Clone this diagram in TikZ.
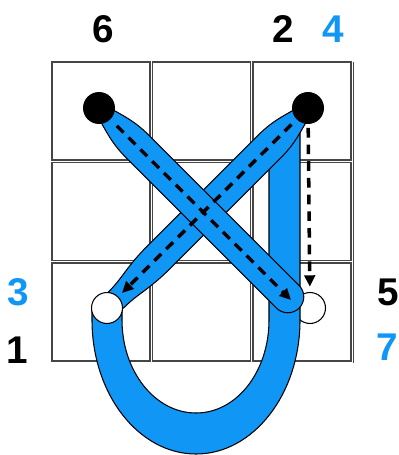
\documentclass[tikz,border=0pt]{standalone}
\usepackage{fontspec}
\setmainfont{Liberation Sans}
\usetikzlibrary{arrows.meta,calc}
\definecolor{accent}{RGB}{16,150,245}
\definecolor{gridline}{RGB}{70,70,70}

\begin{document}
\begin{tikzpicture}[x=0.02cm, y=-0.02cm,
    cell/.style={draw=gridline, line width=0.8pt},
    band/.style={fill=accent, draw=black, line width=0.6pt},
    bdot/.style={circle, fill=black, minimum size=0.64cm, inner sep=0pt},
    wdot/.style={circle, draw=black, fill=white, line width=0.6pt, minimum size=0.62cm, inner sep=0pt},
    num/.style={font=\bfseries\fontsize{22}{24}\selectfont, inner sep=0pt},
    dashline/.style={line width=2pt, dash pattern=on 5.5pt off 4pt, -{Triangle[length=6.5pt,width=6pt]}}]
    \useasboundingbox (0,0) rectangle (398,455);
    % grid
    \foreach \x in {52,152.5,253}
        \foreach \y in {62,162.5,263}
            \draw[cell] (\x,\y) rectangle ++(98,98);
    \draw[cell] (353.3,62) -- (353.3,362.5);
    \node[wdot] (p5) at (310,308) {};
    % loop band
    \draw[band] (269,150) -- (300,119) -- (300,320)
        .. controls (300,394) and (253.4,454) .. (196,454)
        .. controls (138.6,454) and (92,394) .. (92,320)
        -- (92,310) -- (122,310) -- (122,320)
        .. controls (122,371.4) and (155.1,413) .. (196,413)
        .. controls (236.9,413) and (269,371.4) .. (269,320) -- cycle;
    % crossing bands
    \foreach \px/\py/\ang/\len/\we in {308/108/-135/271/11, 99/108/-45/267/16} {
        \begin{scope}[shift={(\px,\py)}, rotate=\ang]
            \draw[band] (0,-6) .. controls (20,-10) and (30,-16) .. (55,-16) -- ({\len-60},-16)
                .. controls ({\len-30},-16) and ({\len-20},-\we) .. (\len,-\we)
                .. controls ({\len+0.55*\we},-\we) and ({\len+\we},{-0.55*\we}) .. ({\len+\we},0)
                .. controls ({\len+\we},{0.55*\we}) and ({\len+0.55*\we},\we) .. (\len,\we)
                .. controls ({\len-20},\we) and ({\len-30},16) .. ({\len-60},16) -- (55,16)
                .. controls (30,16) and (20,10) .. (0,6) -- cycle;
        \end{scope}
    }
    \node[wdot] (p3) at (107,308) {};
    \node[bdot] (p6) at (99,108) {};
    \node[bdot] (p2) at (308,108) {};
    % stitches
    \coordinate (endA) at (291,300);
    \coordinate (endB) at (122,293);
    \draw[dashline, shorten <=5pt] (p6) -- (endA);
    \draw[dashline, shorten <=4pt] (p2) -- (endB);
    \draw[dashline, shorten <=2pt, shorten >=3pt] (p2) -- (p5);
    % numbers
    \node[num] (n6) at (103,29) {6};
    \node[num] (n2) at (283,29) {2};
    \node[num, text=accent] (n4) at (333,29) {4};
    \node[num, text=accent] (n3) at (18,292) {3};
    \node[num] (n1) at (17,350) {1};
    \node[num] (n5) at (388,292) {5};
    \node[num, text=accent] (n7) at (387,347) {7};
\end{tikzpicture}
\end{document}
